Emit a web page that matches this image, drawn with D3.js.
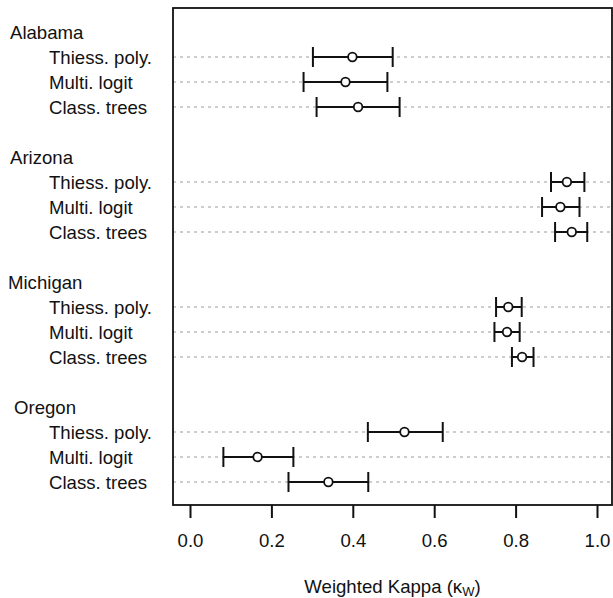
<!DOCTYPE html>
<html>
<head>
<meta charset="utf-8">
<script src="https://cdn.jsdelivr.net/npm/d3@7"></script>
<style>
  body { margin: 0; background: #fff; }
  text { font-family: "Liberation Sans", Arial, sans-serif; fill: #111; }
</style>
</head>
<body>
<div id="chart"></div>
<script>
// data
var states = ["Alabama", "Arizona", "Michigan", "Oregon"];
var methods = ["Thiess. poly.", "Multi. logit", "Class. trees"];
// kappa estimate, lower and upper bound, per state (rows follow methods)
var kappa = [
  [0.399, 0.382, 0.413],
  [0.926, 0.910, 0.938],
  [0.782, 0.779, 0.816],
  [0.527, 0.166, 0.340]
];
var lower = [
  [0.302, 0.279, 0.311],
  [0.887, 0.865, 0.897],
  [0.752, 0.748, 0.791],
  [0.437, 0.082, 0.242]
];
var upper = [
  [0.498, 0.485, 0.515],
  [0.969, 0.957, 0.976],
  [0.815, 0.810, 0.844],
  [0.621, 0.254, 0.438]
];
var xTicks = [0, 0.2, 0.4, 0.6, 0.8, 1.0];

var svgWidth = 613;
var svgHeight = 598;

var box = { left: 173, top: 8, right: 612, bottom: 505 };

var svg = d3.select("#chart")
  .append("svg")
  .attr("width", svgWidth)
  .attr("height", svgHeight);

// scales
var xScale = d3.scaleLinear()
  .domain([0, 1])
  .range([190, 597]);

// each state takes 5 slots: label, 3 methods, blank
var slots = d3.range(states.length * 5);
var yScale = d3.scalePoint()
  .domain(slots)
  .range([32, 32 + 25 * (slots.length - 1)]);

// flatten into rows
var rows = [];
states.forEach(function(s, i) {
  methods.forEach(function(m, j) {
    rows.push({
      state: s, method: m, slot: i * 5 + j + 1,
      k: kappa[i][j], lo: lower[i][j], hi: upper[i][j]
    });
  });
});

var fontSize = 18.6;

// dotted guide lines
svg.append("g").selectAll("line")
  .data(rows)
  .enter()
  .append("line")
  .attr("x1", box.left)
  .attr("x2", box.right)
  .attr("y1", d => yScale(d.slot))
  .attr("y2", d => yScale(d.slot))
  .attr("stroke", "#bdbdbd")
  .attr("stroke-width", 1.3)
  .attr("stroke-dasharray", "3,4");

// group labels
var labelDx = [10, 10, 8, 14];
svg.append("g").selectAll("text")
  .data(states)
  .enter()
  .append("text")
  .attr("x", (d, i) => labelDx[i])
  .attr("y", (d, i) => yScale(i * 5) + 7)
  .attr("font-size", fontSize)
  .text(d => d);

// method labels
svg.append("g").selectAll("text")
  .data(rows)
  .enter()
  .append("text")
  .attr("x", 49)
  .attr("y", d => yScale(d.slot) + 7)
  .attr("font-size", fontSize)
  .text(d => d.method);

// error bars
var bars = svg.append("g")
  .attr("stroke", "#111")
  .attr("stroke-width", 2);

bars.selectAll(".bar")
  .data(rows)
  .enter()
  .append("line")
  .attr("x1", d => xScale(d.lo))
  .attr("x2", d => xScale(d.hi))
  .attr("y1", d => yScale(d.slot))
  .attr("y2", d => yScale(d.slot));

bars.selectAll(".capLo")
  .data(rows)
  .enter()
  .append("line")
  .attr("x1", d => xScale(d.lo))
  .attr("x2", d => xScale(d.lo))
  .attr("y1", d => yScale(d.slot) - 10)
  .attr("y2", d => yScale(d.slot) + 10);

bars.selectAll(".capHi")
  .data(rows)
  .enter()
  .append("line")
  .attr("x1", d => xScale(d.hi))
  .attr("x2", d => xScale(d.hi))
  .attr("y1", d => yScale(d.slot) - 10)
  .attr("y2", d => yScale(d.slot) + 10);

// points
svg.append("g").selectAll("circle")
  .data(rows)
  .enter()
  .append("circle")
  .attr("cx", d => xScale(d.k))
  .attr("cy", d => yScale(d.slot))
  .attr("r", 4.3)
  .attr("fill", "#fff")
  .attr("stroke", "#111")
  .attr("stroke-width", 1.8);

// box
svg.append("rect")
  .attr("x", box.left)
  .attr("y", box.top)
  .attr("width", box.right - box.left)
  .attr("height", box.bottom - box.top)
  .attr("fill", "none")
  .attr("stroke", "#111")
  .attr("stroke-width", 1.8);

// x axis
var bottomAxis = d3.axisBottom(xScale)
  .tickValues(xTicks)
  .tickFormat(d3.format(".1f"))
  .tickSize(13)
  .tickPadding(16);

var axisG = svg.append("g")
  .attr("transform", "translate(0," + box.bottom + ")")
  .call(bottomAxis);

axisG.select(".domain").remove();
axisG.selectAll(".tick line")
  .attr("stroke", "#111")
  .attr("stroke-width", 2);
axisG.selectAll(".tick text")
  .attr("font-family", "Liberation Sans, Arial, sans-serif")
  .attr("font-size", fontSize)
  .attr("fill", "#111");

// axis title
var title = svg.append("text")
  .attr("x", (box.left + box.right) / 2)
  .attr("y", 593)
  .attr("text-anchor", "middle")
  .attr("font-size", fontSize);
title.append("tspan").text("Weighted Kappa (\u03BA");
title.append("tspan").attr("font-size", 13).attr("dy", 3).text("W");
title.append("tspan").attr("dy", -3).text(")");
</script>
</body>
</html>
